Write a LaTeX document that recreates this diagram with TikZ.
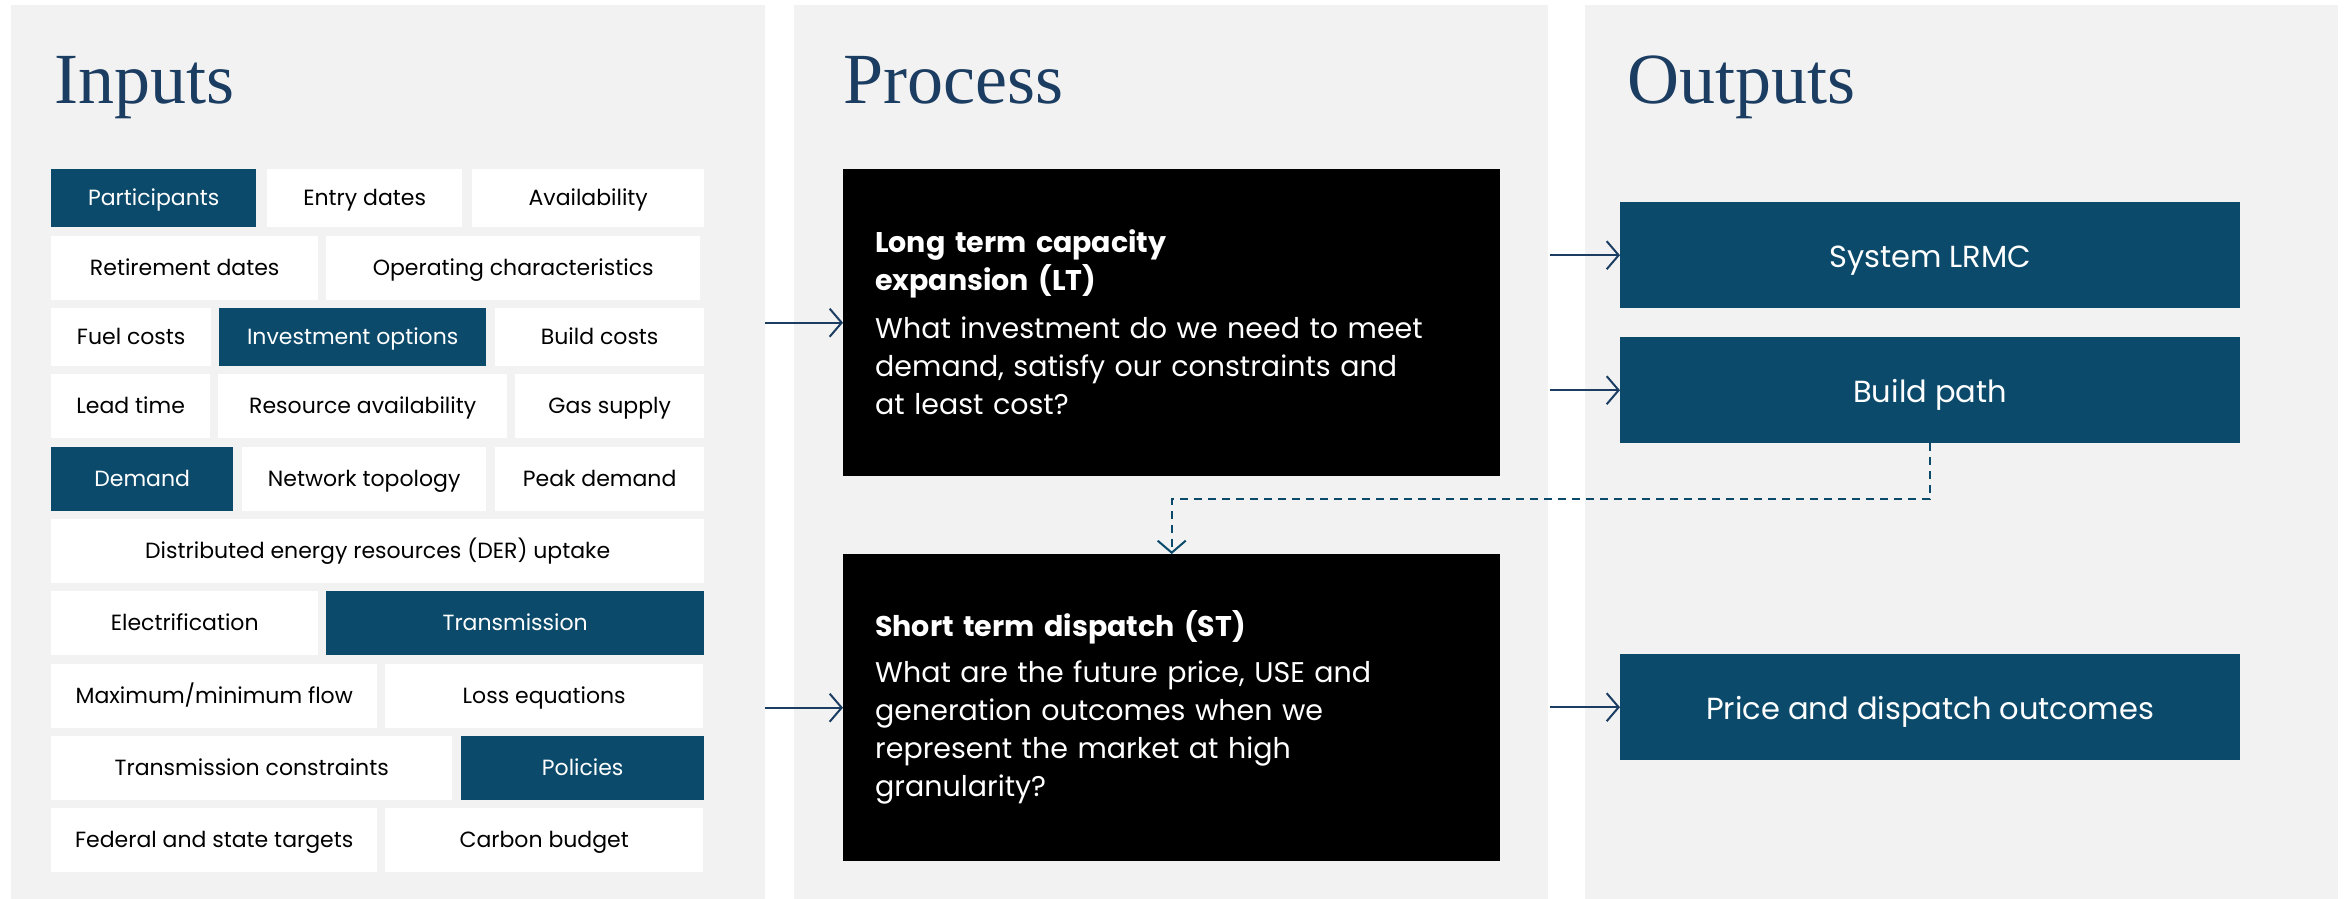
\documentclass[tikz,border=0pt]{standalone}
\usepackage{fontspec}
\setmainfont{Poppins}
\newfontfamily\headfont{Liberation Serif}
\usetikzlibrary{arrows.meta}
\usetikzlibrary{positioning}
\definecolor{boxblue}{HTML}{0B4A6B}
\definecolor{inkblue}{HTML}{1C3D62}
\definecolor{panelgrey}{HTML}{F2F2F2}
\tikzset{
    Cell/.style = {anchor=north west, fill=white, inner sep=0pt, text=black, text height=16pt, text depth=2pt, font=\fontsize{22}{26}\selectfont}
}
\tikzset{
    KeyCell/.style = {Cell, fill=boxblue, text=white}
}
\tikzset{
    Edge/.style = {draw=inkblue, line width=2pt, -{Straight Barb[length=12pt,width=28pt]}}
}

\begin{document}
\begin{tikzpicture}[
    x=1pt, y=-1pt
]
\tikzset{
    Title/.style = {anchor=base west, inner sep=0pt, text=inkblue, font=\headfont\fontsize{72}{72}\selectfont},
    Model/.style = {anchor=north west, fill=black, text=white, align=left, text width=593pt, inner xsep=32pt, minimum height=307pt, font=\fontsize{28.5}{38}\selectfont},
    Result/.style = {anchor=north west, fill=boxblue, text=white, minimum width=620pt, minimum height=106pt, text height=26pt, text depth=2pt, font=\fontsize{30.5}{34}\selectfont},
    Feedback/.style = {draw=boxblue, line width=2pt, dash pattern=on 8pt off 6pt, -{Straight Barb[length=12pt,width=28pt]}}
}
\fill[white] (0,0) rectangle (2346,899);
\useasboundingbox (0,0) rectangle (2346,899);
% three columns
\fill[panelgrey] (11,5) rectangle (765,899);
\fill[panelgrey] (794,5) rectangle (1548,899);
\fill[panelgrey] (1585,5) rectangle (2338,899);
\node[Title] (inputs) at (54,103) {Inputs};
\node[Title] (process) at (843,103) {Process};
\node[Title] (outputs) at (1627,103) {Outputs};
% input cells, row by row
\node[KeyCell, minimum width=205, minimum height=58] (participants) at (51,169) {Participants};
\node[Cell, minimum width=195, minimum height=58] (entrydates) at (267,169) {Entry dates};
\node[Cell, minimum width=232, minimum height=58] (availability) at (472,169) {Availability};
\node[Cell, minimum width=267, minimum height=64] (retirement) at (51,236) {Retirement dates};
\node[Cell, minimum width=374, minimum height=64] (operating) at (326,236) {Operating characteristics};
\node[Cell, minimum width=160, minimum height=58] (fuelcosts) at (51,308) {Fuel costs};
\node[KeyCell, minimum width=267, minimum height=58] (investment) at (219,308) {Investment options};
\node[Cell, minimum width=209, minimum height=58] (buildcosts) at (495,308) {Build costs};
\node[Cell, minimum width=159, minimum height=64] (leadtime) at (51,374) {Lead time};
\node[Cell, minimum width=289, minimum height=64] (resource) at (218,374) {Resource availability};
\node[Cell, minimum width=189, minimum height=64] (gassupply) at (515,374) {Gas supply};
\node[KeyCell, minimum width=182, minimum height=64] (demand) at (51,447) {Demand};
\node[Cell, minimum width=244, minimum height=64] (network) at (242,447) {Network topology};
\node[Cell, minimum width=209, minimum height=64] (peakdemand) at (495,447) {Peak demand};
\node[Cell, minimum width=653, minimum height=64] (der) at (51,519) {Distributed energy resources (DER) uptake};
\node[Cell, minimum width=267, minimum height=64] (electrification) at (51,591) {Electrification};
\node[KeyCell, minimum width=378, minimum height=64] (transmission) at (326,591) {Transmission};
\node[Cell, minimum width=326, minimum height=64] (maxminflow) at (51,664) {Maximum/minimum flow};
\node[Cell, minimum width=318, minimum height=64] (loss) at (385,664) {Loss equations};
\node[Cell, minimum width=401, minimum height=64] (constraints) at (51,736) {Transmission constraints};
\node[KeyCell, minimum width=243, minimum height=64] (policies) at (461,736) {Policies};
\node[Cell, minimum width=326, minimum height=64] (targets) at (51,808) {Federal and state targets};
\node[Cell, minimum width=318, minimum height=64] (carbon) at (385,808) {Carbon budget};
% the two model runs
\node[Model] (lt) at (843,169) {\textbf{Long term capacity}\\\textbf{expansion (LT)}\\[10pt]What investment do we need to meet\\demand, satisfy our constraints and\\at least cost?};
\node[Model] (st) at (843,554) {\textbf{Short term dispatch (ST)}\\[8pt]What are the future price, USE and\\generation outcomes when we\\represent the market at high\\granularity?};
% outputs
\node[Result] (lrmc) at (1620,202) {System LRMC};
\node[Result] (buildpath) at (1620,337) {Build path};
\node[Result] (price) at (1620,654) {Price and dispatch outcomes};
% arrows between columns
\path (lt.west) ++(-78,0) coordinate (feedlt);
\path (st.west) ++(-78,0) coordinate (feedst);
\path (lrmc.west) ++(-70,0) coordinate (fromlrmc);
\path (buildpath.west) ++(-70,0) coordinate (frombuild);
\path (price.west) ++(-70,0) coordinate (fromprice);
\path (feedlt) edge [Edge] (lt.west);
\path (feedst) edge [Edge] (st.west);
\path (fromlrmc) edge [Edge] (lrmc.west);
\path (frombuild) edge [Edge] (buildpath.west);
\path (fromprice) edge [Edge] (price.west);
\draw[Feedback] (buildpath.south) -- ++(0,56) -| (st.north);
\end{tikzpicture}
\end{document}
